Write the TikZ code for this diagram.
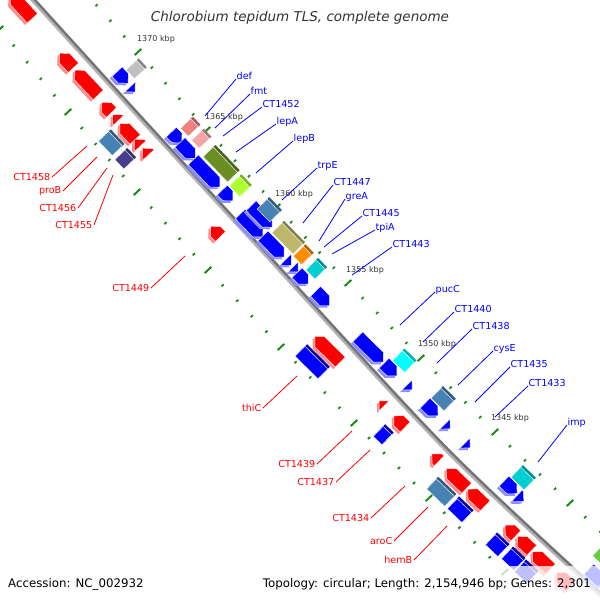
\documentclass[tikz,border=0pt]{standalone}
\usepackage{fontspec}
\setmainfont{DejaVu Sans}
\usepackage{tikz}

\definecolor{gnred}{HTML}{FF0000}
\definecolor{gnblue}{HTML}{0000FF}
\definecolor{cogpink}{HTML}{EE8080}
\definecolor{cogpinkb}{HTML}{F4A4A4}
\definecolor{cogolive}{HTML}{6B8E23}
\definecolor{coglime}{HTML}{ADFF2F}
\definecolor{cogsteel}{HTML}{4682B4}
\definecolor{cogkhaki}{HTML}{BDB76B}
\definecolor{cogorange}{HTML}{FF8C00}
\definecolor{cogturq}{HTML}{00CED1}
\definecolor{cogcyan}{HTML}{00FFFF}
\definecolor{cogslate}{HTML}{483D8B}
\definecolor{coggray}{HTML}{C0C0C0}
\definecolor{coggreen}{HTML}{66CC44}
\definecolor{tickgreen}{HTML}{1C8A1C}

% outline of one gene, centred, along the local x axis
\newcommand{\gshape}{(-\ghl,-\ghw) -- (\ghl-\ghd,-\ghw) -- (\ghl,0) -- (\ghl-\ghd,\ghw) -- (-\ghl,\ghw) -- cycle}

% one gene: centre x, centre y, length, width, colour, direction (1 fwd, -1 rev, 0 box)
\newcommand{\gene}[6]{%
  \pgfmathsetmacro{\gang}{-47.5+4.5*#2/600}%
  \pgfmathsetmacro{\ghl}{#3/2}%
  \pgfmathsetmacro{\ghw}{#4/2}%
  \pgfmathsetmacro{\ghd}{ifthenelse(#6==0,0,min(#4/2,#3))}%
  \pgfmathsetmacro{\gxs}{ifthenelse(#6==0,1,#6)}%
  \begin{scope}[shift={(#1,#2)}, rotate=\gang, xscale=\gxs]
    \ifnum#6=0
      \fill[fill=#5!70!black, shift={(0,-1.5)}] \gshape;
      \filldraw[fill=#5, draw=white, line width=0.4pt, shift={(0,1.5)}] \gshape;
    \else
      \fill[fill=#5!45!white, shift={(0,1.5)}] \gshape;
      \filldraw[fill=#5, draw=white, line width=0.4pt, shift={(0,-1.5)}] \gshape;
    \fi
  \end{scope}}

\begin{document}
\begin{tikzpicture}[x=1pt, y=-1pt,
    lblred/.style={font=\fontsize{9.6}{10}\selectfont, text=gnred, inner sep=1.5pt, anchor=east},
    lblblue/.style={font=\fontsize{9.6}{10}\selectfont, text=gnblue, inner sep=0.5pt, anchor=base west},
    linered/.style={gnred, line width=0.8pt},
    lineblue/.style={gnblue, line width=0.8pt},
    kbp/.style={font=\fontsize{8}{9}\selectfont, text=black!80, inner sep=0pt},
    tickmaj/.style={tickgreen, line width=2pt},
    tickmin/.style={tickgreen, line width=1.8pt},
    infotext/.style={font=\fontsize{11.8}{13}\selectfont, inner sep=0pt}
]
\useasboundingbox (0,0) rectangle (600,600);
\clip (0,0) rectangle (600,600);
\fill[white] (0,0) rectangle (600,600);

% rulers
\foreach \ax/\ay/\bx/\by in {69/-26/138/52, 138/52/207/130, 207/130/277/207, 277/207/348/283,
    348/283/421/358, 421/358/495/432, 495/432/570/503, 570/503/646/574,
    0/29/68/112, 68/112/137/192, 137/192/208/270, 208/270/281/347,
    281/347/354/423, 354/423/429/498, 429/498/505/572, 505/572/582/645}{
  \draw[tickmaj] (\ax-3.3,\ay+3.1) -- (\ax+3.3,\ay-3.1);
  \foreach \k in {0.2,0.4,0.6,0.8}{
    \pgfmathsetmacro{\px}{\ax+\k*(\bx-\ax)}
    \pgfmathsetmacro{\py}{\ay+\k*(\by-\ay)}
    \draw[tickmin] (\px-1.1,\py+1) -- (\px+1.1,\py-1);
  }
}

% backbone
\draw[line width=5pt, black!30] plot[smooth] coordinates {(27,-7) (147,125) (262,250) (447,450) (607,600)};
\draw[line width=2.2pt, black!55, shift={(0.8,-0.8)}] plot[smooth] coordinates {(27,-7) (147,125) (262,250) (447,450) (607,600)};

% forward genes
\begin{scope}[shift={(1.5,-1.5)}]
\foreach \gx/\gy/\gl in {120/80/16, 130/92/7, 174/140/15, 185/153/22, 204/176/38, 225/198/15,
    249/228/32, 259/219/30, 271/249/30, 286/265/8, 293/272/7, 300/281/16, 320/301/20,
    368/352/36, 388/372/18, 407/390/7, 429/412/18, 445/429/7, 465/448/7,
    508/490/18, 518/501/9, 595/580/24}
  \gene{\gx}{\gy}{\gl}{14}{gnblue}{1};
\end{scope}

% reverse genes
\begin{scope}[shift={(-1.5,1.5)}]
\foreach \gx/\gy/\gl in {22/6/32, 67/60/20, 87/82/34, 107/107/14, 116/117/8, 128/131/22,
    138/142/9, 146/151/9, 216/231/14, 328/349/36, 382/403/7, 400/421/16, 436/457/10,
    457/478/28, 477/497/24, 511/530/15, 525/543/20, 542/560/25, 564/579/20}
  \gene{\gx}{\gy}{\gl}{14}{gnred}{-1};
\end{scope}

% COG boxes, outer side
\begin{scope}[shift={(1.5,-1.5)}]
\foreach \gx/\gy/\gl/\gc in {135/70/12/coggray, 189/128/11/cogpink, 200/140/11/cogpinkb,
    220/165/35/cogolive, 239/187/15/coglime, 268/211/18/cogsteel, 287/239/30/cogkhaki,
    302/256/12/cogorange, 315/270/13/cogturq, 403/362/17/cogcyan, 442/400/18/cogsteel,
    522/479/18/cogturq, 602/556/14/coggreen}
  \gene{\gx}{\gy}{\gl}{14}{\gc}{0};
\end{scope}

% COG boxes, inner side
\begin{scope}[shift={(-1.5,1.5)}]
\foreach \gx/\gy/\gl/\gc in {113/141/20/cogsteel, 127/157/13/cogslate, 314/360/32/gnblue,
    385/433/12/gnblue, 443/490/25/cogsteel, 462/508/20/gnblue, 499/543/17/gnblue,
    515/557/17/gnblue, 528/570/17/gnblue}
  \gene{\gx}{\gy}{\gl}{14}{\gc}{0};
\end{scope}

% scale labels
\node[kbp] (k1370) at (156,39) {1370 kbp};
\node[kbp] (k1365) at (224,117) {1365 kbp};
\node[kbp] (k1360) at (294,194) {1360 kbp};
\node[kbp] (k1355) at (365,270) {1355 kbp};
\node[kbp] (k1350) at (437,344) {1350 kbp};
\node[kbp] (k1345) at (510,418) {1345 kbp};

% labels, reverse strand
\foreach \n/\t/\ax/\ay/\bx/\by in {a/CT1458/52/177/87/146, b/proB/63/191/97/157,
    c/CT1456/78/208/107/168, d/CT1455/94/225/113/175, e/CT1449/151/288/185/256,
    f/thiC/263/408/297/376, g/CT1439/317/464/352/431, h/CT1437/336/482/370/450,
    i/CT1434/371/518/405/486, j/aroC/394/541/428/507, k/hemB/414/560/447/526}{
  \node[lblred] (L\n) at (\ax,\ay) {\t};
  \coordinate (P\n) at (\bx,\by);
  \draw[linered] (L\n.east) -- (P\n);
}

% labels, forward strand
\foreach \n/\t/\ax/\ay/\bx/\by in {a/def/236/79/205/116, b/fmt/250/94/215/128,
    c/CT1452/262/107/223/136, d/lepA/276/124/236/152, e/lepB/293/141/256/173,
    f/trpE/317/168/282/200, g/CT1447/333/185/303/223, h/greA/345/199/319/241,
    i/CT1445/362/216/324/247, j/tpiA/375/230/332/254, k/CT1443/392/247/352/275,
    l/pucC/435/292/400/325, m/CT1440/454/312/423/342, n/CT1438/472/329/437/363,
    o/cysE/493/351/458/385, p/CT1435/510/367/475/402, q/CT1433/528/386/495/417,
    r/imp/567/425/538/462}{
  \node[lblblue] (R\n) at (\ax,\ay) {\t};
  \coordinate (Q\n) at (\bx,\by);
  \draw[lineblue] (R\n.base west) -- (Q\n);
}

% title and footer
\node[font=\fontsize{13.5}{15}\selectfont\itshape, text=black!80] (title) at (300,18) {Chlorobium tepidum TLS, complete genome};
\fill[white, opacity=0.75] (256,566) rectangle (600,600);
\node[infotext, anchor=west] (acc) at (8,584) {Accession: NC\_002932};
\node[infotext, anchor=east] (topo) at (591,584) {Topology: circular; Length: 2,154,946 bp; Genes: 2,301};
\end{tikzpicture}
\end{document}
